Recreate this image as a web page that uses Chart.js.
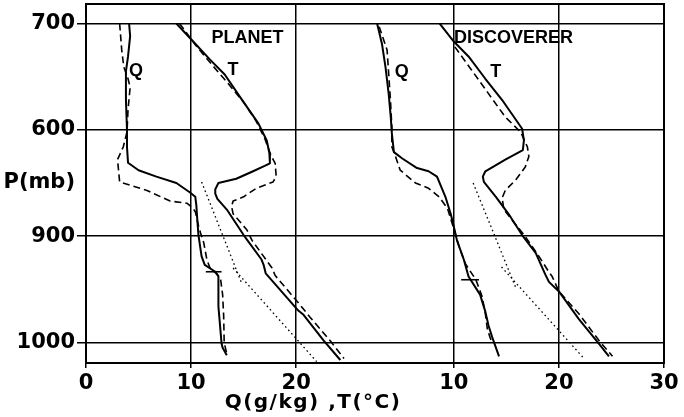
<!DOCTYPE html>
<html>
<head>
<meta charset="utf-8">
<script src="https://cdn.jsdelivr.net/npm/chart.js@4.4.1/dist/chart.umd.min.js"></script>
<style>
  html, body { margin: 0; padding: 0; background: #fff; }
  #wrap { width: 684px; height: 417px; position: relative; }
</style>
</head>
<body>
<div id="wrap"><canvas id="c"></canvas></div>
<script>
// Axis ticks: the left panel reads 0..20, the right panel 10..30 (shifted by panelShift)
const xTickValues = [0, 10, 20, 35, 45, 55];
const xTickLabels = ['0', '10', '20', '10', '20', '30'];
const yTickValues = [700, 800, 850, 900, 1000];
const yTickLabels = ['700', '600', 'P(mb)', '900', '1000'];

// PLANET profiles: [value, pressure mb]
const planetQSolid = [[4.1,700],[4.2,712],[4.0,731],[3.8,745],[3.8,772],[3.9,800],[3.9,816],[4.0,831],[5.0,838],[6.7,844],[8.6,850],[9.9,859],[10.4,863],[10.5,871],[10.6,886],[10.7,899],[11.0,919],[11.3,927],[12.3,933.5],[12.6,938],[12.6,966],[12.9,1001],[13.0,1005],[13.4,1012]];
const planetQDashed = [[3.2,700],[3.4,725],[3.6,741],[4.0,752],[4.2,760],[4.0,781],[3.9,802],[3.55,816],[3.0,828],[3.2,849],[5.8,857],[8.0,867],[9.6,869],[10.1,873],[10.4,877],[10.7,890],[10.9,897],[11.2,906],[11.5,922],[11.8,930],[12.5,936],[12.8,940],[13.0,955],[13.1,975],[13.15,1000],[13.4,1011]];
const planetTSolid = [[8.6,700],[10.2,717],[11.8,734],[13.2,748],[14.65,769],[16.4,794],[17.2,810],[17.45,822],[17.5,831.5],[17.0,834],[15.9,839],[14.3,846],[12.6,850],[12.3,856],[12.3,860],[12.5,865],[13.4,875],[15.0,899],[16.7,922],[16.9,927],[17.1,935],[20.2,970],[20.7,974],[22.6,998],[24.2,1016.5]];
const planetTDashed = [[8.9,700],[10.4,720],[12.0,739],[13.4,755],[15.0,774],[16.2,792],[17.0,808],[17.6,824],[18.0,831.5],[18.1,844],[17.8,849],[16.2,855],[15.0,863],[14.0,867],[13.85,872],[14.0,879],[15.3,894],[15.8,904],[17.7,930],[18.0,937],[20.4,965],[21.3,976],[23.2,998],[24.55,1015]];
const planetDottedUpper = [[11.0,849],[14.8,944]];
const planetDottedLower = [[14.0,930],[21.95,1018]];
const planetMark = [[11.4,933.5],[12.9,933.5]];

// DISCOVERER profiles: [value, pressure mb]
const discQSolid = [[2.7,700],[3.16,719],[3.5,741],[3.8,766],[4.0,788],[4.1,803],[4.3,821],[5.1,827],[6.5,836],[7.6,839],[8.4,844],[9.2,863],[9.7,879],[10.0,891],[10.3,904],[10.95,922],[11.4,938],[12.5,955],[13.0,971],[13.3,984],[13.65,995],[14.3,1013]];
const discQDashed = [[2.9,703],[3.65,725],[3.97,772],[4.1,797],[4.1,816],[4.45,825],[4.9,838],[6.35,850],[7.6,855],[8.6,863],[9.4,874],[10.0,893],[10.5,910],[11.1,926],[12.1,941],[12.7,957],[13.0,973],[13.2,988],[13.65,1001]];
const discTSolid = [[8.64,700],[10.0,717],[11.4,731],[13.0,752],[14.6,772],[16.5,799],[16.67,810],[16.57,819],[14.9,828],[13.0,839],[12.76,844],[12.86,849],[14.0,863],[15.2,879],[16.5,899],[17.8,916],[18.7,936],[19.05,943],[20.0,952],[21.9,978],[23.8,1001],[24.76,1013]];
const discTDashed = [[10.1,722],[11.7,744],[13.3,766],[14.9,788],[16.35,802],[17.0,816],[17.14,825],[16.8,835],[15.9,847],[14.9,857],[14.6,864],[14.76,875],[15.55,885],[16.7,899],[18.1,919],[19.0,933],[19.36,938],[20.0,952],[21.9,973],[23.8,998],[25.1,1013]];
const discDottedUpper = [[11.84,850],[15.88,948]];
const discDottedLower = [[14.54,929],[22.38,1015]];
const discMark = [[10.7,941],[12.4,941]];

const panelShift = 25;
const xTitle = 'Q(g/kg) ,T(°C)';

// Text labels placed in data coordinates
const panelLabels = [
  { text: 'PLANET', x: 15.37, y: 713.5 },
  { text: 'Q', x: 4.76, y: 744.5 },
  { text: 'T', x: 13.99, y: 743.7 },
  { text: 'DISCOVERER', x: 40.68, y: 713.8 },
  { text: 'Q', x: 30.04, y: 745.6 },
  { text: 'T', x: 39.0, y: 745.6 }
];

const styles = {
  solid:  { borderWidth: 2,   borderDash: [] },
  dashed: { borderWidth: 1.6, borderDash: [7, 4] },
  dotted: { borderWidth: 1.3, borderDash: [1.6, 3] },
  mark:   { borderWidth: 1.6, borderDash: [] }
};

function series(points, shift, style) {
  return Object.assign({
    data: points.map(([v, p]) => ({ x: v + shift, y: p })),
    showLine: true,
    borderColor: '#000',
    backgroundColor: '#000',
    pointRadius: 0,
    tension: 0,
    fill: false,
    borderJoinStyle: 'round'
  }, styles[style]);
}

const datasets = [
  series(planetQSolid, 0, 'solid'),
  series(planetQDashed, 0, 'dashed'),
  series(planetTSolid, 0, 'solid'),
  series(planetTDashed, 0, 'dashed'),
  series(planetDottedUpper, 0, 'dotted'),
  series(planetDottedLower, 0, 'dotted'),
  series(planetMark, 0, 'mark'),
  series(discQSolid, panelShift, 'solid'),
  series(discQDashed, panelShift, 'dashed'),
  series(discTSolid, panelShift, 'solid'),
  series(discTDashed, panelShift, 'dashed'),
  series(discDottedUpper, panelShift, 'dotted'),
  series(discDottedLower, panelShift, 'dotted'),
  series(discMark, panelShift, 'mark')
];

const frame = {
  id: 'frame',
  beforeDraw(chart) {
    const { ctx, width, height } = chart;
    ctx.save();
    ctx.fillStyle = '#fff';
    ctx.fillRect(0, 0, width, height);
    ctx.restore();
  },
  afterDraw(chart) {
    const { ctx, chartArea: a, scales: { x, y } } = chart;
    ctx.save();
    ctx.strokeStyle = '#000';
    ctx.lineWidth = 2;
    ctx.strokeRect(a.left, a.top, a.right - a.left, a.bottom - a.top);
    ctx.fillStyle = '#000';
    ctx.textAlign = 'center';
    ctx.textBaseline = 'middle';
    ctx.font = 'bold 18px "Liberation Sans"';
    panelLabels.forEach(l => ctx.fillText(l.text, x.getPixelForValue(l.x), y.getPixelForValue(l.y)));
    ctx.font = 'bold 20px "DejaVu Sans"';
    ctx.letterSpacing = '1.5px';
    ctx.fillText(xTitle, x.getPixelForValue(21.6), a.bottom + 40);
    ctx.restore();
  }
};

const tickFont = { family: 'DejaVu Sans', weight: 'bold', size: 21 };

new Chart(document.getElementById('c'), {
  type: 'scatter',
  data: { datasets },
  plugins: [frame],
  options: {
    responsive: true,
    maintainAspectRatio: false,
    animation: false,
    layout: { padding: { top: 4, right: 20, left: 0, bottom: 0 } },
    plugins: { legend: { display: false }, tooltip: { enabled: false } },
    scales: {
      x: {
        type: 'linear', min: 0, max: 55,
        afterBuildTicks: s => { s.ticks = xTickValues.map(v => ({ value: v })); },
        afterFit: s => { s.height = 54; s.paddingLeft = 0; s.paddingRight = 0; },
        ticks: {
          callback: (v, i) => xTickLabels[i],
          font: tickFont, color: '#000', padding: 3,
          maxRotation: 0, autoSkip: false
        },
        grid: { color: '#000', lineWidth: 1.5, tickLength: 5 },
        border: { display: true, color: '#000', width: 2 }
      },
      y: {
        type: 'linear', reverse: true, min: 681.7, max: 1019.3,
        afterBuildTicks: s => { s.ticks = yTickValues.map(v => ({ value: v })); },
        afterFit: s => { s.width = 86; s.paddingTop = 0; s.paddingBottom = 0; },
        ticks: {
          callback: (v, i) => yTickLabels[i],
          font: tickFont, color: '#000', padding: 2, autoSkip: false
        },
        grid: {
          color: c => (c.tick && c.tick.value === 850) ? 'rgba(0,0,0,0)' : '#000',
          lineWidth: 1.5, tickLength: 9
        },
        border: { display: true, color: '#000', width: 2 }
      }
    }
  }
});
</script>
</body>
</html>
